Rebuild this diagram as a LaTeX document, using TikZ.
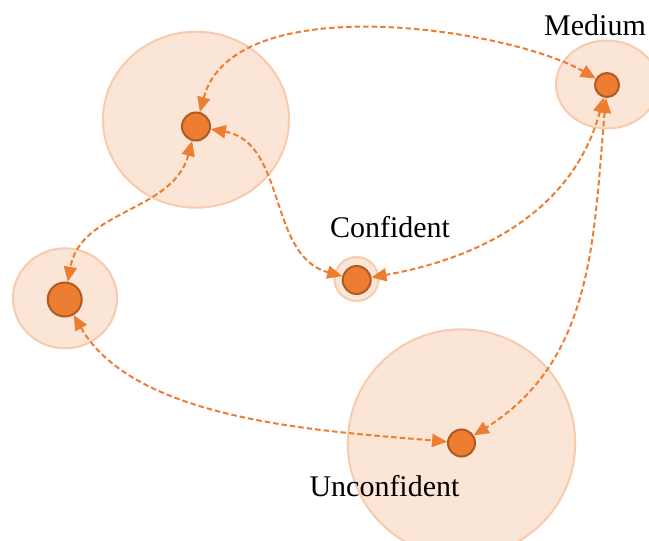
\documentclass[tikz,border=0pt]{standalone}
\usepackage{fontspec}
\setmainfont{Liberation Serif}
\usetikzlibrary{arrows.meta}
\definecolor{dotorange}{HTML}{ED7D31}
\definecolor{dotedge}{HTML}{AE5A21}
\definecolor{halofill}{HTML}{FBE5D6}
\definecolor{haloedge}{HTML}{F8CBAD}

\begin{document}
\begin{tikzpicture}[x=1pt,y=1pt,
  halo/.style={fill=halofill,draw=haloedge,line width=2pt},
  dot/.style={circle,fill=dotorange,draw=dotedge,line width=2pt,inner sep=0pt},
  link/.style={dotorange,line width=2pt,dash pattern=on 5.5pt off 3pt,
    {Triangle[length=15pt,width=13pt]}-{Triangle[length=15pt,width=13pt]}},
  tag/.style={font=\fontsize{30}{36}\selectfont,anchor=base}]
  \useasboundingbox (0,0) rectangle (649,-541);
  % halos
  \draw [halo] (196,-119.7) ellipse [x radius=93, y radius=88];
  \draw [halo] (607,-84.5) ellipse [x radius=51, y radius=44];
  \draw [halo] (65,-298.3) ellipse [x radius=52, y radius=50];
  \draw [halo] (356.5,-279) circle [radius=22];
  \draw [halo] (461.5,-443) circle [radius=113.7];
  % dots
  \node [dot, minimum size=28pt] (big)    at (196,-126.5) {};
  \node [dot, minimum size=24pt] (medium) at (607,-85) {};
  \node [dot, minimum size=34pt] (left)   at (64.7,-299.5) {};
  \node [dot, minimum size=28pt] (conf)   at (356.7,-280) {};
  \node [dot, minimum size=27pt] (unconf) at (461.5,-443) {};
  % links
  \draw [link] (big) to [out=75, in=150, out distance=130pt, in distance=100pt] (medium);
  \draw [link] (big) to [out=-10, in=165] (conf);
  \draw [link] (big) to [out=-105, in=80] (left);
  \draw [link] (medium) to [out=-105, in=10] (conf);
  \draw [link] (medium) to [out=-95, in=32] (unconf);
  \draw [link] (left) to [out=-60, in=175, looseness=0.8] (unconf);
  % labels
  \node [tag] (medtag)    at (595,-35) {Medium};
  \node [tag] (conftag)   at (390,-237) {Confident};
  \node [tag] (unconftag) at (384.5,-496) {Unconfident};
\end{tikzpicture}
\end{document}
